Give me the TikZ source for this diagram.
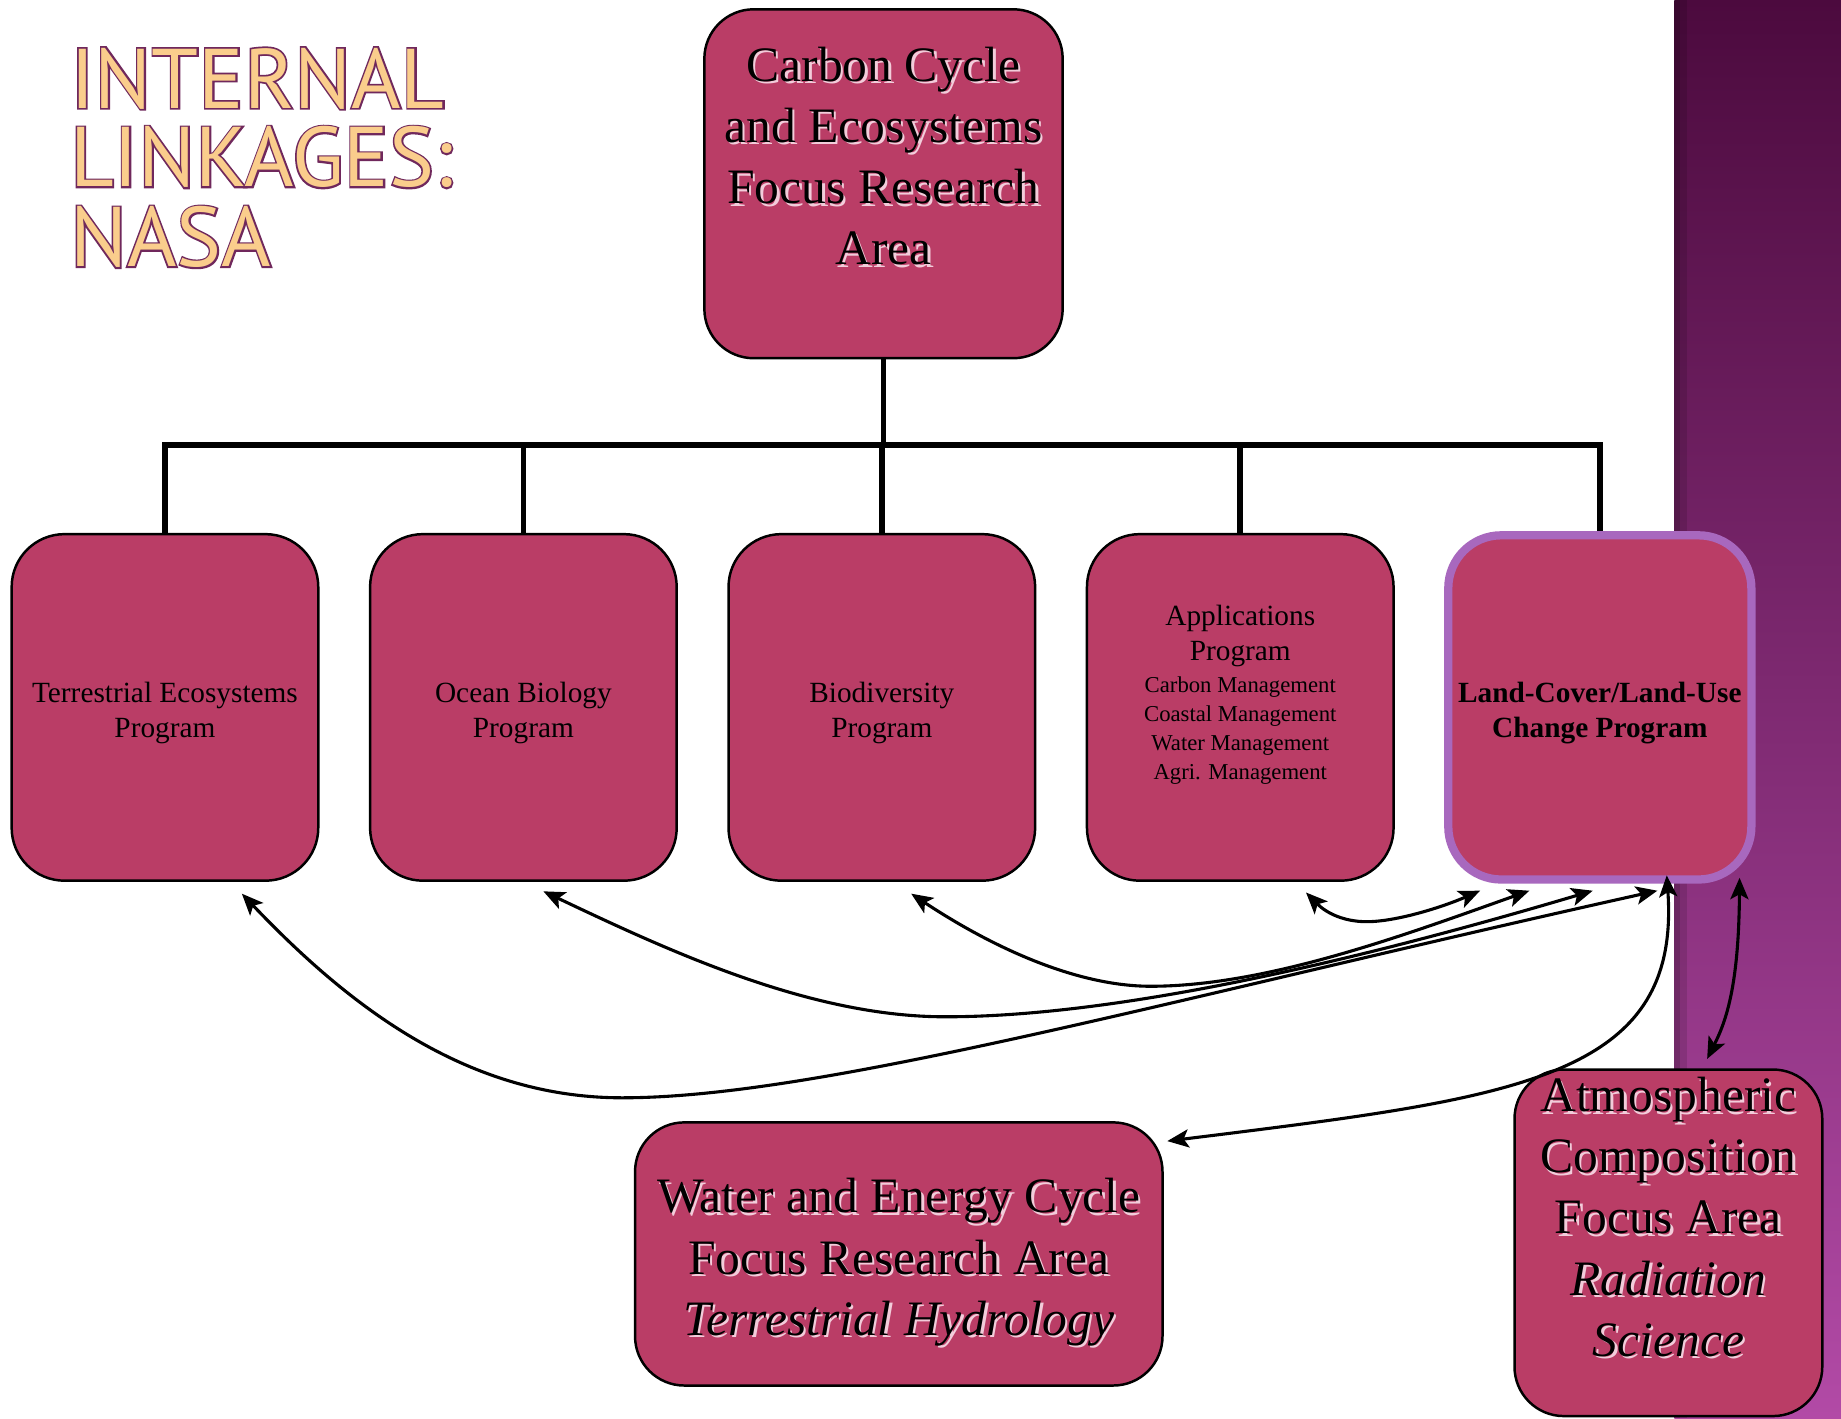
\documentclass[tikz,border=0pt]{standalone}
\usepackage{fontspec}
\setmainfont{Liberation Serif}
\newfontfamily\titlefont{PT Sans}
\newfontfamily\titleedgefont{PT Sans}[FakeBold=4]
\usetikzlibrary{positioning,arrows.meta}
\definecolor{boxred}{RGB}{186,61,102}
\definecolor{lcluedge}{RGB}{168,104,190}
\definecolor{glowpink}{RGB}{242,204,218}
\definecolor{titleorange}{RGB}{250,205,140}
\definecolor{titleedge}{RGB}{112,40,92}
\definecolor{stripTop}{RGB}{76,10,62}
\definecolor{stripMid}{RGB}{120,44,108}
\definecolor{stripBot}{RGB}{178,74,166}
\newcommand\apsm{\fontsize{5.5}{6.9}\selectfont}

\begin{document}
\begin{tikzpicture}[x=0.01cm,y=-0.01cm,
    prog/.style={draw=black,line width=0.6pt,fill=boxred,rounded corners=0.45cm,
      minimum width=2.61cm,minimum height=2.95cm,inner sep=0pt},
    progtext/.style={align=center,inner sep=0pt,font=\fontsize{7.1}{8.5}\selectfont},
    bigbox/.style={draw=black,line width=0.6pt,fill=boxred,rounded corners=0.42cm,inner sep=0pt},
    bigtext/.style={align=center,inner sep=0pt,font=\fontsize{12}{14.8}\selectfont},
    glowtext/.style={bigtext,text=glowpink},
    titleline/.style={anchor=base west,inner sep=0pt,text=titleorange,font=\titlefont\fontsize{20.5}{20.5}\selectfont},
    titleedge/.style={titleline,text=titleedge,font=\titleedgefont\fontsize{20.5}{20.5}\selectfont},
    tree/.style={line width=1.35pt},
    link/.style={line width=0.75pt,
      {Stealth[length=5.2pt,width=4.4pt,inset=1.2pt]}-{Stealth[length=5.2pt,width=4.4pt,inset=1.2pt]}}]
    \useasboundingbox (0,0) rectangle (1568,1208);
    \fill[white] (0,0) rectangle (1568,1208);
    \shade[top color=stripTop,middle color=stripMid,bottom color=stripBot] (1426,0) rectangle (1568,1208);
    \fill[black,opacity=0.25] (1426,0) rectangle (1431,1208);
    \fill[black,opacity=0.12] (1431,0) rectangle (1437,1208);

    \node[titleedge] (t1edge) at (59,92) {INTERNAL};
    \node[titleline] (t1) at (59,92) {INTERNAL};
    \node[titleedge] (t2edge) at (59,159) {LINKAGES:};
    \node[titleline] (t2) at (59,159) {LINKAGES:};
    \node[titleedge] (t3edge) at (59,227) {NASA};
    \node[titleline] (t3) at (59,227) {NASA};

    \node[bigbox,minimum width=3.05cm,minimum height=2.97cm] (carbon) at (752.5,156.5) {};
    \node[glowtext] (carbonglow) at (754.5,135) {Carbon Cycle\\and Ecosystems\\Focus Research\\Area};
    \node[bigtext] (carbontxt) at (752.5,133) {Carbon Cycle\\and Ecosystems\\Focus Research\\Area};

    \node[prog] (terr) at (140.5,602.5) {};
    \node[prog,right=0.42cm of terr] (ocean) {};
    \node[prog,right=0.42cm of ocean] (biodiv) {};
    \node[prog,right=0.42cm of biodiv] (appl) {};
    \node[prog,draw=lcluedge,line width=2pt,minimum width=2.58cm,minimum height=2.93cm,
      right=0.42cm of appl] (lclu) {};
    \node[progtext] (terrtxt) at ([shift={(0,5)}]terr.center) {Terrestrial Ecosystems\\Program};
    \node[progtext] (oceantxt) at ([shift={(0,5)}]ocean.center) {Ocean Biology\\Program};
    \node[progtext] (biodivtxt) at ([shift={(0,5)}]biodiv.center) {Biodiversity\\Program};
    \node[progtext] (appltxt) at ([shift={(0,-11)}]appl.center)
      {Applications\\Program\\[-0.8pt]\apsm Carbon Management\\[-1.5pt]\apsm Coastal Management\\[-1.5pt]\apsm Water Management\\[-1.5pt]\apsm Agri. Management};
    \node[progtext,font=\bfseries\fontsize{7.1}{8.5}\selectfont] (lclutxt) at ([shift={(0,5)}]lclu.center)
      {Land-Cover/Land-Use\\Change Program};

    \node[bigbox,minimum width=4.49cm,minimum height=2.24cm] (water) at (765.5,1068) {};
    \node[glowtext] (waterglow) at (767.5,1077) {Water and Energy Cycle\\Focus Research Area\\\textit{Terrestrial Hydrology}};
    \node[bigtext] (watertxt) at (765.5,1075) {Water and Energy Cycle\\Focus Research Area\\\textit{Terrestrial Hydrology}};

    \node[bigbox,minimum width=2.62cm,minimum height=2.95cm] (atmos) at (1421,1058.5) {};
    \node[glowtext] (atmosglow) at (1423,1038.5) {Atmospheric\\Composition\\Focus Area\\\textit{Radiation}\\\textit{Science}};
    \node[bigtext] (atmostxt) at (1421,1036.5) {Atmospheric\\Composition\\Focus Area\\\textit{Radiation}\\\textit{Science}};

    \coordinate (bus) at (752.5,379);
    \draw[tree] (carbon.south) -- (bus);
    \foreach \n in {terr,ocean,biodiv,appl,lclu}
      \draw[tree] (bus) -| (\n.north);

    \draw[link] ([shift={(65.5,10)}]terr.south) .. controls (300,860) and (400,935) .. (530,935)
      .. controls (700,935) and (1000,850) .. ([shift={(49,6)}]lclu.south);
    \draw[link] ([shift={(17,8)}]ocean.south) .. controls (570,810) and (690,866) .. (805,866)
      .. controls (950,866) and (1150,820) .. ([shift={(-6,6)}]lclu.south);
    \draw[link] ([shift={(25,10)}]biodiv.south) .. controls (850,810) and (920,840) .. (980,840)
      .. controls (1080,840) and (1200,795) .. ([shift={(-60,6)}]lclu.south);
    \draw[link] ([shift={(56,9)}]appl.south) .. controls (1130,778) and (1145,785) .. (1164,785)
      .. controls (1190,785) and (1230,772) .. ([shift={(-102,6)}]lclu.south);
    \draw[link] ([shift={(57,-7)}]lclu.south) .. controls (1432,920) and (1290,935) .. ([shift={(3,17)}]water.north east);
    \draw[link] ([shift={(119,-5)}]lclu.south) .. controls (1481,840) and (1470,870) .. ([shift={(33,-8)}]atmos.north);
\end{tikzpicture}
\end{document}
